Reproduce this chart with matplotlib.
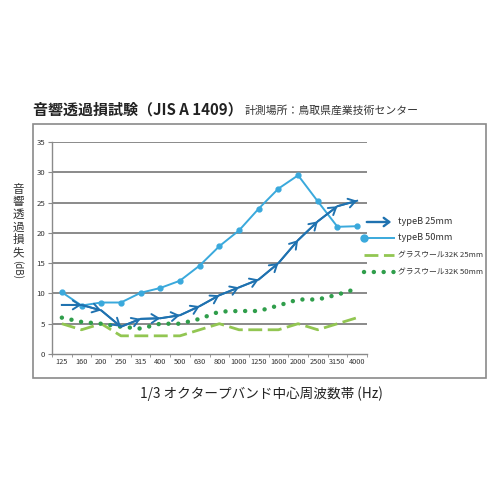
import matplotlib
matplotlib.use("Agg")
import matplotlib.pyplot as plt
from matplotlib.lines import Line2D
from matplotlib.patches import Rectangle, FancyArrowPatch
import numpy as np

plt.rcParams['font.family'] = ['Noto Sans CJK JP', 'DejaVu Sans']

freqs = ['125', '160', '200', '250', '315', '400', '500', '630', '800',
         '1000', '1250', '1600', '2000', '2500', '3150', '4000']
typeB_25 = [8.1, 8.1, 7.2, 4.5, 5.8, 5.9, 6.4, 7.9, 9.7, 11.0, 12.3, 15.0,
            18.8, 21.9, 24.4, 25.3]
typeB_50 = [10.2, 8.0, 8.5, 8.5, 10.1, 10.9, 12.1, 14.6, 17.8, 20.4, 24.0,
            27.3, 29.5, 25.2, 21.0, 21.1]
gw_25 = [5.0, 4.0, 5.0, 3.0, 3.0, 3.0, 3.0, 4.0, 5.0, 4.0, 4.0, 4.0, 5.0,
         4.0, 5.0, 6.0]
gw_50 = [6.0, 5.3, 5.0, 4.5, 4.2, 5.0, 5.0, 5.8, 7.0, 7.1, 7.1, 8.0, 9.0,
         9.0, 9.8, 10.8]
yticks = [0, 5, 10, 15, 20, 25, 30, 35]
legend_labels = ['typeB 25mm', 'typeB 50mm', 'グラスウール32K 25mm', 'グラスウール32K 50mm']
ylabel_chars = ['音', '響', '透', '過', '損', '失']
ylabel_unit = '(dB)'

c_b25 = '#1f72b0'
c_b50 = '#3aa9dc'
c_g25 = '#92c652'
c_g50 = '#2f9e4b'
grid_c = '#8a8a8a'

W = H = 500
fig = plt.figure(figsize=(5, 5), dpi=100)

def fx(px):
    return px / W

def fy(py):
    return 1 - py / H

ax = fig.add_axes([fx(52), fy(354), fx(367) - fx(52), fy(142) - fy(354)])
x = np.arange(len(freqs))

ax.set_xlim(-0.5, len(freqs) - 0.5)
ax.set_ylim(0, 35)
ax.set_yticks(yticks)
for yv in yticks[1:]:
    ax.axhline(yv, color=grid_c, lw=1.4, zorder=1)

ax.plot(x, gw_25, color=c_g25, lw=2.0, ls=(0, (5, 2)), zorder=3)
ax.plot(x, gw_50, color=c_g50, lw=3.2, ls=(0, (0.01, 2.2)),
        dash_capstyle='round', solid_capstyle='round', zorder=3)
ax.plot(x, typeB_50, color=c_b50, lw=1.4, marker='o', ms=3.5, zorder=4)
ax.plot(x, typeB_25, color=c_b25, lw=1.4, zorder=4)
for i in range(1, len(freqs)):
    ax.annotate('', xy=(x[i], typeB_25[i]), xytext=(x[i - 1], typeB_25[i - 1]),
                arrowprops=dict(arrowstyle='->,head_length=0.5,head_width=0.32',
                                color=c_b25, lw=1.4, shrinkA=0, shrinkB=0),
                zorder=5)

ax.set_xticks(x)
ax.set_xticklabels(freqs, fontsize=5.3, color='#333333')
ax.set_xticks(np.arange(-0.5, len(freqs), 1), minor=True)
ax.tick_params(axis='x', which='major', length=0, pad=3)
ax.tick_params(axis='x', which='minor', length=2, color=grid_c, direction='out')
ax.tick_params(axis='y', length=3, color=grid_c, labelsize=5.6,
               labelcolor='#333333', pad=2)
for s in ['top', 'right']:
    ax.spines[s].set_visible(False)
for s in ['left', 'bottom']:
    ax.spines[s].set_color(grid_c)
    ax.spines[s].set_linewidth(1.0)

# frame
fig.add_artist(Rectangle((fx(33), fy(378)), fx(486) - fx(33), fy(124) - fy(378),
                         transform=fig.transFigure, fill=False,
                         edgecolor='#8a8a8a', lw=1.2))

# titles
fig.text(fx(33), fy(109), '音響透過損試験（JIS A 1409）', fontsize=10.8,
         fontweight='bold', va='center', ha='left', color='#222222')
fig.text(fx(245), fy(110), '計測場所：鳥取県産業技術センター', fontsize=7.8,
         va='center', ha='left', color='#333333')

# axis labels
fig.text(fx(261), fy(394), '1/3 オクタープバンド中心周波数帯 (Hz)', fontsize=9.8,
         va='center', ha='center', color='#222222')
for k, ch in enumerate(ylabel_chars):
    fig.text(fx(18), fy(189 + 12.7 * k), ch, fontsize=8.3, va='center',
             ha='center', color='#333333')
fig.text(fx(18), fy(270), ylabel_unit, fontsize=7, rotation=-90, va='center',
         ha='center', color='#333333')

# legend
rows = [222, 238, 255, 272]
lx0, lx1, tx = 364, 394, 398
fig.add_artist(FancyArrowPatch((fx(lx0), fy(rows[0])), (fx(lx1), fy(rows[0])),
                               transform=fig.transFigure,
                               arrowstyle='->,head_length=4,head_width=3',
                               color=c_b25, lw=1.7))
fig.add_artist(Line2D([fx(lx0), fx(lx1)], [fy(rows[1])] * 2, color=c_b50, lw=1.4,
                      transform=fig.transFigure))
fig.add_artist(Line2D([fx(lx0)], [fy(rows[1])], color=c_b50, marker='o', ms=5,
                      transform=fig.transFigure))
fig.add_artist(Line2D([fx(lx0), fx(lx1)], [fy(rows[2])] * 2, color=c_g25, lw=2.0,
                      ls=(0, (5, 2)), transform=fig.transFigure))
fig.add_artist(Line2D([fx(lx0), fx(lx1)], [fy(rows[3])] * 2, color=c_g50, lw=3.2,
                      ls=(0, (0.01, 2.2)), dash_capstyle='round',
                      transform=fig.transFigure))
for r, lab in zip(rows, legend_labels):
    fs = 6.6 if lab.startswith('type') else 5.6
    fig.text(fx(tx), fy(r), lab, fontsize=fs, va='center', ha='left',
             color='#333333')

fig.savefig('out.png', dpi=100)
